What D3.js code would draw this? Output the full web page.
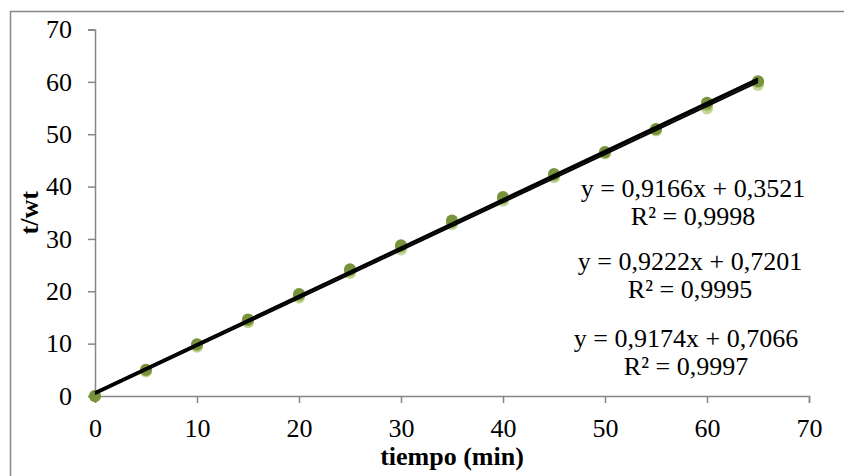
<!DOCTYPE html>
<html>
<head>
<meta charset="utf-8">
<script src="https://cdn.jsdelivr.net/npm/d3@7"></script>
<style>
  body { margin: 0; background: #fff; }
  svg { display: block; font-family: "Liberation Serif", "Times New Roman", serif; }
</style>
</head>
<body>
<div id="chart"></div>
<script>
const width = 844;
const height = 476;

// tiempo (min)
const tiempo = [0, 5, 10, 15, 20, 25, 30, 35, 40, 45, 50, 55, 60, 65];
// t/wt for the three runs
const serie1 = [0, 5.0, 9.9, 14.6, 19.5, 24.2, 28.8, 33.5, 38.0, 42.4, 46.6, 51.0, 56.0, 60.1];
const serie2 = [0, 4.9, 9.7, 14.4, 19.2, 23.9, 28.5, 33.2, 37.7, 42.1, 46.5, 50.9, 55.6, 60.0];
const serie3 = [0, 4.7, 9.4, 14.1, 18.8, 23.5, 28.0, 32.8, 37.3, 41.8, 46.3, 50.7, 54.9, 59.4];
// trendlines [slope, intercept, R2]
const trends = [
  [0.9166, 0.3521, "0,9998", "0,9166x + 0,3521"],
  [0.9222, 0.7201, "0,9995", "0,9222x + 0,7201"],
  [0.9174, 0.7066, "0,9997", "0,9174x + 0,7066"]
];
const xTicks = [0, 10, 20, 30, 40, 50, 60, 70];
const yTicks = [0, 10, 20, 30, 40, 50, 60, 70];

const colors = ["#77933C", "#9BBB59", "#C3D69B"];

const svg = d3.select("#chart")
  .append("svg")
  .attr("width", width)
  .attr("height", height);

// chart frame
svg.append("rect")
  .attr("x", 10.5).attr("y", 11.5)
  .attr("width", width).attr("height", height)
  .attr("fill", "none")
  .attr("stroke", "#888")
  .attr("stroke-width", 1.5);

const x = d3.scaleLinear().domain([0, 70]).range([95, 809]);
const y = d3.scaleLinear().domain([0, 70]).range([396, 29.5]);

const xAxis = svg.append("g")
  .attr("transform", `translate(0,${y(0)})`)
  .call(d3.axisBottom(x).tickValues(xTicks).tickSize(7).tickPadding(16));

const yAxis = svg.append("g")
  .attr("transform", `translate(${x(0)},0)`)
  .call(d3.axisLeft(y).tickValues(yTicks).tickSize(7).tickPadding(16));

[xAxis, yAxis].forEach(a => {
  a.selectAll("path, line").attr("stroke", "#868686").attr("stroke-width", 1.5);
  a.selectAll("text")
    .style("font-family", "'Liberation Serif', serif")
    .style("font-size", "26px")
    .attr("fill", "#000");
});

// points, lightest first so darker sit on top
const series = [serie3, serie2, serie1];
const seriesColors = [colors[2], colors[1], colors[0]];
series.forEach((s, i) => {
  svg.append("g").selectAll("circle")
    .data(tiempo)
    .enter()
    .append("circle")
    .attr("cx", d => x(d))
    .attr("cy", (d, j) => y(s[j]))
    .attr("r", 6)
    .attr("fill", seriesColors[i]);
});

// linear trendlines
trends.forEach(t => {
  svg.append("line")
    .attr("x1", x(0)).attr("y1", y(t[1]))
    .attr("x2", x(65)).attr("y2", y(t[0] * 65 + t[1]))
    .attr("stroke", "#000")
    .attr("stroke-width", 2);
});

// equation labels
const labelPos = [[693, 197], [690, 270], [686, 347]];
trends.forEach((t, i) => {
  const g = svg.append("text")
    .attr("text-anchor", "middle")
    .style("font-size", "26px");
  g.append("tspan").attr("x", labelPos[i][0]).attr("y", labelPos[i][1])
    .text("y = " + t[3]);
  g.append("tspan").attr("x", labelPos[i][0]).attr("y", labelPos[i][1] + 28)
    .text("R² = " + t[2]);
});

// axis titles
svg.append("text")
  .attr("x", (x(0) + x(70)) / 2)
  .attr("y", 465)
  .attr("text-anchor", "middle")
  .style("font-size", "26px")
  .style("font-weight", "bold")
  .text("tiempo (min)");

svg.append("text")
  .attr("transform", `translate(38,${y(35)}) rotate(-90)`)
  .attr("text-anchor", "middle")
  .style("font-size", "26px")
  .style("font-weight", "bold")
  .text("t/wt");
</script>
</body>
</html>
